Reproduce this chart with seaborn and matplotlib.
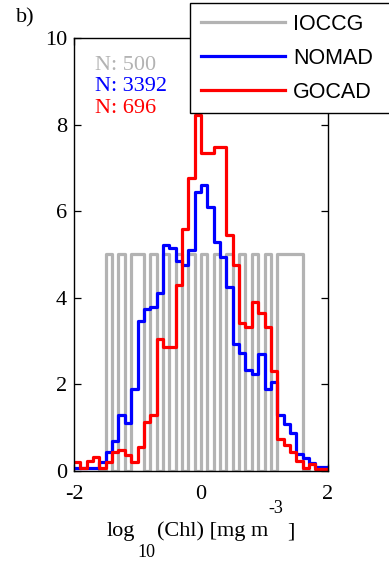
import numpy as np
import pandas as pd
import matplotlib
matplotlib.use("Agg")
import matplotlib.pyplot as plt
from matplotlib.lines import Line2D
import seaborn as sns

# Histogram bins in log10(Chl): 0.1 wide, from -2 to 2
edges = np.round(np.linspace(-2.0, 2.0, 41), 2)
centers = edges[:-1] + 0.05

# Percent of samples falling in each bin
ioccg_pct = [0, 0, 0, 0, 0, 5, 0, 5, 0, 5,
             5, 0, 5, 0, 5, 0, 5, 0, 5, 0,
             5, 0, 5, 0, 5, 0, 5, 0, 5, 0,
             5, 0, 5, 5, 5, 5, 0, 0, 0, 0]
nomad_pct = [0.06, 0.06, 0.06, 0.06, 0.2, 0.45, 0.7, 1.3, 1.1, 1.9,
             3.47, 3.74, 3.79, 4.1, 5.22, 5.15, 4.85, 4.75, 5.1, 6.45,
             6.6, 6.1, 5.3, 4.95, 4.25, 2.93, 2.72, 2.33, 2.24, 2.7,
             1.9, 2.06, 1.29, 1.08, 0.87, 0.4, 0.3, 0.18, 0.1, 0.1]
gocad_pct = [0.2, 0.08, 0.22, 0.32, 0.08, 0.2, 0.44, 0.48, 0.37, 0.2,
             0.55, 1.14, 1.29, 3.04, 2.87, 2.87, 4.3, 5.6, 6.77, 8.22,
             7.35, 7.35, 7.49, 7.49, 5.45, 4.76, 3.42, 3.33, 3.9, 3.64,
             3.33, 2.3, 0.74, 0.6, 0.45, 0.22, 0.08, 0.17, 0.05, 0.04]

series_names = ["IOCCG", "NOMAD", "GOCAD"]
series_counts = [500, 3392, 696]
series_colors = ["#b3b3b3", "#0000ff", "#ff0000"]
series_pct = [ioccg_pct, nomad_pct, gocad_pct]

x_ticks = [-2, 0, 2]
y_ticks = [0, 2, 4, 6, 8, 10]

plt.rcParams["font.family"] = ["Liberation Serif", "DejaVu Serif"]
plt.rcParams["axes.unicode_minus"] = False

W, H = 389, 561
fig = plt.figure(figsize=(W / 100, H / 100), dpi=100)
ax = fig.add_axes([74 / W, 1 - 471 / H, 254 / W, 433 / H])

line_w = 2.3
for pct, col in zip(series_pct, series_colors):
    pct = np.asarray(pct, dtype=float)
    nz = np.nonzero(pct)[0]
    lo = max(nz[0] - 1, 0)
    hi = min(nz[-1] + 1, len(pct) - 1)
    df = pd.DataFrame({"log_chl": centers[lo:hi + 1], "pct": pct[lo:hi + 1]})
    sns.histplot(data=df, x="log_chl", weights="pct",
                 bins=[float(e) for e in edges[lo:hi + 2]],
                 element="step", fill=False,
                 color=col, linewidth=line_w, ax=ax)

ax.set_xlim(-2, 2)
ax.set_ylim(0, 10)
ax.set_xticks(x_ticks)
ax.set_xticklabels([str(v) for v in x_ticks])
ax.set_yticks(y_ticks)
ax.set_yticklabels([str(v) for v in y_ticks])
ax.set_xlabel("")
ax.set_ylabel("")
for s in ax.spines.values():
    s.set_linewidth(1.0)
    s.set_color("black")
ax.tick_params(direction="in", top=True, right=True, length=5, width=0.9,
               labelsize=16, colors="black")
ax.tick_params(axis="x", pad=10)
ax.tick_params(axis="y", pad=5)

# Sample sizes
for i, (n, col) in enumerate(zip(series_counts, series_colors)):
    ax.text(0.083, 0.926 - i * 0.0495, f"N: {n}", color=col, fontsize=16,
            transform=ax.transAxes, ha="left", va="baseline")

# Panel letter
fig.text(16 / W, 1 - 22 / H, "b)", fontsize=16, ha="left", va="baseline")

# Axis label with offset subscript / superscript
def px_text(x, y, s, size):
    fig.text(x / W, 1 - y / H, s, fontsize=size, ha="left", va="baseline")

px_text(107, 536, "log", 16)
px_text(137, 557, "10", 13)
px_text(157, 536, "(Chl) [mg m", 16)
px_text(268, 513, "-3", 13)
px_text(287, 536, "]", 16)

# Legend (runs past the right edge of the figure)
handles = [Line2D([], [], color=c, linewidth=line_w) for c in series_colors]
leg = fig.legend(handles, series_names, loc="upper left",
                 bbox_to_anchor=(190 / W, 1 - 3 / H - 0.01, 320 / W, 0.01),
                 mode="expand", borderaxespad=0, fancybox=False,
                 framealpha=1, edgecolor="black",
                 prop={"family": "Liberation Sans", "size": 15.5},
                 handlelength=3.9, handletextpad=0.4, labelspacing=0.6,
                 borderpad=0.5)
leg.get_frame().set_linewidth(1.0)

fig.savefig("out.png", dpi=100)
